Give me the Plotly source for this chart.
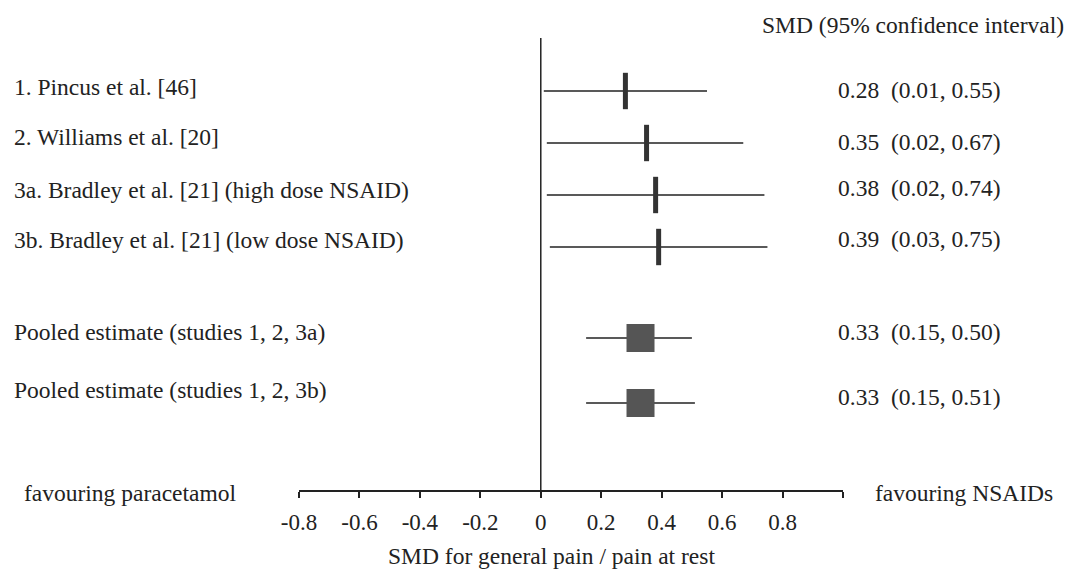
import plotly.graph_objects as go

# ---- data ----
studies = ["1. Pincus et al. [46]", "2. Williams et al. [20]",
           "3a. Bradley et al. [21] (high dose NSAID)", "3b. Bradley et al. [21] (low dose NSAID)",
           "Pooled estimate (studies 1, 2, 3a)", "Pooled estimate (studies 1, 2, 3b)"]
smd = [0.28, 0.35, 0.38, 0.39, 0.33, 0.33]
ci_low = [0.01, 0.02, 0.02, 0.03, 0.15, 0.15]
ci_high = [0.55, 0.67, 0.74, 0.75, 0.50, 0.51]
is_pooled = [False, False, False, False, True, True]
tick_vals = [-0.8, -0.6, -0.4, -0.2, 0, 0.2, 0.4, 0.6, 0.8, 1.0]
tick_text = ["-0.8", "-0.6", "-0.4", "-0.2", "0", "0.2", "0.4", "0.6", "0.8", ""]

# row layout (row units) and label pixel offsets
row_pos = [1, 2, 3, 4, 5.75, 7]
name_shift = [4, 6, 5, 7, 6, 13]
value_shift = [1, 1, 7, 8, 6, 6]

FONT = "Liberation Serif, Times New Roman, serif"
TXT = "#222222"
FS = 23.5
W, H = 1068, 574
L, R, T, B = 299, 225, 38, 84
pw = W - L - R
ph = H - T - B

def px_x(p):
    return (p - L) / pw

def px_y(p):
    return (H - B - p) / ph

fig = go.Figure()

# whiskers
for i in range(len(smd)):
    fig.add_trace(go.Scatter(x=[ci_low[i], ci_high[i]], y=[row_pos[i], row_pos[i]],
                             mode="lines", line=dict(color="#222222", width=1.6),
                             showlegend=False, hoverinfo="skip"))

# individual study markers
sx = [s for s, p in zip(smd, is_pooled) if not p]
sy = [r for r, p in zip(row_pos, is_pooled) if not p]
fig.add_trace(go.Scatter(x=sx, y=sy, mode="markers",
                         marker=dict(symbol="line-ns", size=26, line=dict(color="#333333", width=5)),
                         showlegend=False))
# pooled markers
px_ = [s for s, p in zip(smd, is_pooled) if p]
py_ = [r for r, p in zip(row_pos, is_pooled) if p]
fig.add_trace(go.Scatter(x=px_, y=py_, mode="markers",
                         marker=dict(symbol="square", size=28, color="#555555", line=dict(width=0)),
                         showlegend=False))

# zero line
fig.add_shape(type="line", xref="x", yref="paper", x0=0, x1=0, y0=0, y1=1,
              line=dict(color="#222222", width=1.5))

ann = []
for i, s in enumerate(studies):
    ann.append(dict(xref="paper", yref="y", x=px_x(12), y=row_pos[i], yshift=name_shift[i],
                    text=s, showarrow=False, xanchor="left", yanchor="middle",
                    font=dict(family=FONT, size=FS, color=TXT)))
    ann.append(dict(xref="paper", yref="y", x=px_x(836), y=row_pos[i], yshift=value_shift[i],
                    text=f"{smd[i]:.2f}&nbsp;&nbsp;({ci_low[i]:.2f}, {ci_high[i]:.2f})",
                    showarrow=False, xanchor="left", yanchor="middle",
                    font=dict(family=FONT, size=FS, color=TXT)))
ann.append(dict(xref="paper", yref="paper", x=px_x(760), y=px_y(25),
                text="SMD (95% confidence interval)", showarrow=False,
                xanchor="left", yanchor="middle", font=dict(family=FONT, size=FS, color=TXT)))
ann.append(dict(xref="paper", yref="paper", x=px_x(22), y=px_y(493),
                text="favouring paracetamol", showarrow=False,
                xanchor="left", yanchor="middle", font=dict(family=FONT, size=FS, color=TXT)))
ann.append(dict(xref="paper", yref="paper", x=px_x(873), y=px_y(493),
                text="favouring NSAIDs", showarrow=False,
                xanchor="left", yanchor="middle", font=dict(family=FONT, size=FS, color=TXT)))
ann.append(dict(xref="paper", yref="paper", x=px_x(551), y=px_y(556),
                text="SMD for general pain / pain at rest", showarrow=False,
                xanchor="center", yanchor="middle", font=dict(family=FONT, size=FS, color=TXT)))

fig.update_layout(
    width=W, height=H,
    margin=dict(l=L, r=R, t=T, b=B, pad=0),
    paper_bgcolor="white", plot_bgcolor="white",
    annotations=ann,
    xaxis=dict(range=[-0.8, 1.0], tickvals=tick_vals, ticktext=tick_text,
               showgrid=False, zeroline=False, showline=True, linecolor="#222222", linewidth=1.5,
               ticks="outside", ticklen=6, tickwidth=1.5, tickcolor="#222222",
               ticklabelstandoff=5,
               tickfont=dict(family=FONT, size=23, color=TXT)),
    yaxis=dict(range=[1 + (H - B - 91) / 52, 1 + (T - 91) / 52], visible=False,
               showgrid=False, zeroline=False),
)

fig.write_html("out.html", config={"displayModeBar": False},
               post_script="document.body.style.margin='0';")
